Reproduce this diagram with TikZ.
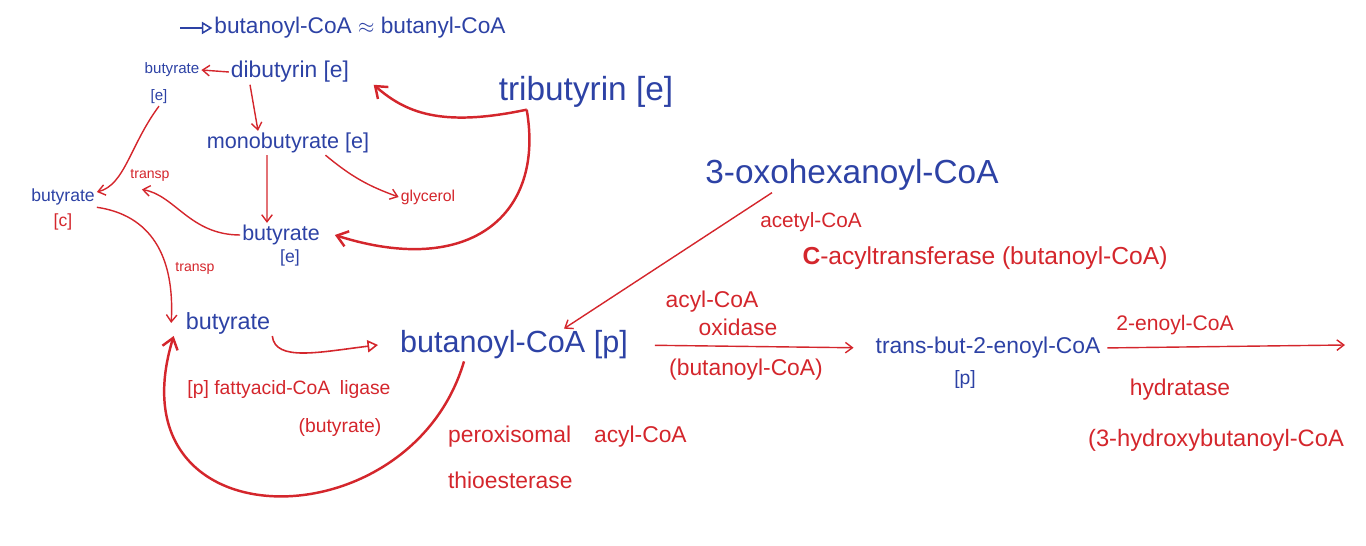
\documentclass[tikz,border=0pt]{standalone}
\usepackage{fontspec}
\setmainfont{Liberation Sans}
\usepackage{xcolor}
\definecolor{ink}{RGB}{45, 66, 165}
\definecolor{pen}{RGB}{212, 38, 44}
\usetikzlibrary{arrows.meta, positioning, calc}
\newcommand{\handsize}[1]{\fontsize{#1}{#1}\selectfont}
\tikzset{
  metab/.style={text=ink, inner sep=1pt},
  enzlabel/.style={text=pen, inner sep=1pt},
  mainarrow/.style={-{Straight Barb[length=6pt,width=9pt]}, line width=1.4pt, color=pen},
  subarrow/.style={-{Straight Barb[length=4pt,width=6pt]}, line width=0.8pt, color=pen},
  openarrow/.style={-{Triangle[open,length=6pt,width=7pt]}, line width=0.9pt}
}
\begin{document}
\begin{tikzpicture}[x=0.02cm, y=-0.02cm]
  \useasboundingbox (0,0) rectangle (1366,546);

  % extracellular side
  \coordinate (topin) at (180,28);
  \node[metab, font=\handsize{12.9}] (note) at (360,28) {butanoyl-CoA $\approx$ butanyl-CoA};
  \node[metab, font=\handsize{8.6}] (bute1) at (172,70) {butyrate};
  \node[metab, font=\handsize{8.6}] (bute1c) at (159,97) {[e]};
  \node[metab, font=\handsize{13}] (di) at (290,72) {dibutyrin [e]};
  \node[metab, font=\handsize{19}] (tri) at (586,92) {tributyrin [e]};
  \node[metab, font=\handsize{12.3}] (mono) at (288,143) {monobutyrate [e]};
  \node[enzlabel, font=\handsize{9}] (gly) at (428,197) {glycerol};
  \node[metab, font=\handsize{12.2}] (bute2) at (281,235) {butyrate};
  \node[metab, font=\handsize{10}] (bute2c) at (290,258) {[e]};

  % cytosol and peroxisome
  \node[metab, font=\handsize{10}] (butc) at (63,197) {butyrate};
  \node[enzlabel, font=\handsize{10}] (butcc) at (63,222) {[c]};
  \node[enzlabel, font=\handsize{8}] (tr1) at (150,175) {transp};
  \node[enzlabel, font=\handsize{8}] (tr2) at (195,268) {transp};
  \node[metab, font=\handsize{13.3}] (butp) at (228,323) {butyrate};
  \node[enzlabel, font=\handsize{11}] (lig) at (289,390) {[p] fattyacid-CoA\enspace ligase};
  \node[enzlabel, font=\handsize{11}] (ligsub) at (340,428) {(butyrate)};
  \node[metab, font=\handsize{17.4}] (bcoa) at (514,345) {butanoyl-CoA [p]};
  \node[enzlabel, font=\handsize{13}, anchor=west] (thio1) at (446,437) {peroxisomal\quad acyl-CoA};
  \node[enzlabel, font=\handsize{13}, anchor=west] (thio2) at (446,480) {thioesterase};

  % beta oxidation
  \node[metab, font=\handsize{19}] (oxo) at (852,175) {3-oxohexanoyl-CoA};
  \node[enzlabel, font=\handsize{11.8}] (act1) at (811,222) {acetyl-CoA};
  \node[enzlabel, font=\handsize{14}] (act2) at (985,258) {\textbf{C}-acyltransferase (butanoyl-CoA)};
  \node[enzlabel, font=\handsize{13}] (ox1) at (712,302) {acyl-CoA};
  \node[enzlabel, font=\handsize{13}] (ox2) at (738,327) {oxidase};
  \node[enzlabel, font=\handsize{13}] (ox3) at (746,370) {(butanoyl-CoA)};
  \node[metab, font=\handsize{13}] (trans) at (988,348) {trans-but-2-enoyl-CoA};
  \node[metab, font=\handsize{11}] (transc) at (965,380) {[p]};
  \node[enzlabel, font=\handsize{12}] (hy1) at (1175,325) {2-enoyl-CoA};
  \node[enzlabel, font=\handsize{13}] (hy2) at (1180,390) {hydratase};
  \node[enzlabel, font=\handsize{13.5}] (hy3) at (1216,440) {(3-hydroxybutanoyl-CoA};
  \coordinate (hyend) at (1345,345);

  \draw[openarrow, color=ink] (topin) -- (note.west);
  \draw[subarrow] (di.west) -- (bute1.east);
  \draw[subarrow] ([xshift=-0.8cm]di.south) -- ([xshift=-0.6cm]mono.north);
  \draw[subarrow] ([xshift=-0.42cm]mono.south) -- ([xshift=-0.28cm]bute2.north);
  \draw[subarrow] ([xshift=0.75cm]mono.south) to[bend right=10] (gly.west);
  \draw[mainarrow] ([xshift=0.6cm]tri.south west) .. controls (440,128) and (405,112) .. ([xshift=0.45cm]di.south east);
  \draw[mainarrow] ([xshift=0.6cm]tri.south west) .. controls (545,215) and (470,278) .. ([xshift=0.26cm]bute2.east);
  \draw[subarrow] (bute1c.south) .. controls (130,145) and (125,185) .. ([yshift=0.1cm]butc.east);
  \draw[subarrow] (bute2.west) .. controls (190,235) and (175,195) .. ([xshift=0.9cm,yshift=0.15cm]butc.east);
  \draw[subarrow] (butc.south east) .. controls (150,215) and (175,255) .. ([xshift=-0.25cm]butp.west);
  \draw[openarrow, color=pen] (butp.south east) .. controls (275,362) and (320,352) .. ([xshift=-0.4cm]bcoa.west);
  \draw[mainarrow] ([xshift=-1cm]bcoa.south) .. controls (410,545) and (110,545) .. ([xshift=-0.2cm]butp.south west);
  \draw[subarrow] ([xshift=-1.6cm]oxo.south) -- ([xshift=1cm]bcoa.north);
  \draw[subarrow, shorten <=0.5cm, shorten >=0.4cm] (bcoa.east) -- (trans.west);
  \draw[subarrow, shorten <=0.1cm] (trans.east) -- (hyend);
\end{tikzpicture}
\end{document}
